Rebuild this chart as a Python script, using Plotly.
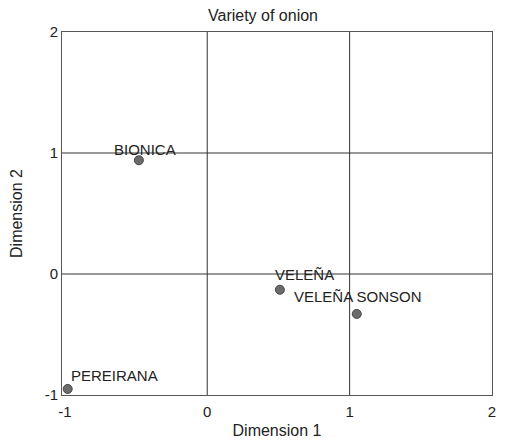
import plotly.graph_objects as go

varieties = ["BIONICA", "VELEÑA", "VELEÑA SONSON", "PEREIRANA"]
dim1 = [-0.48, 0.51, 1.05, -0.98]
dim2 = [0.94, -0.13, -0.33, -0.95]
x_ticks = [-1, 0, 1, 2]
y_ticks = [-1, 0, 1, 2]
grid_vals = [0, 1]

FONT = "Liberation Sans, Arial, sans-serif"
TXT = "#222222"

fig = go.Figure()
fig.add_trace(go.Scatter(
    x=dim1, y=dim2, mode="markers",
    marker=dict(symbol="circle", size=9, color="#6b6b6b",
                line=dict(color="#444444", width=1)),
    hoverinfo="text", text=varieties, showlegend=False,
))

for g in grid_vals:
    fig.add_vline(x=g, line=dict(color="#333333", width=1), layer="below")
    fig.add_hline(y=g, line=dict(color="#333333", width=1), layer="below")

# label offsets (pixels)
offsets = {
    "BIONICA": ("center", 6, 11),
    "VELEÑA": ("left", -7, 15),
    "VELEÑA SONSON": ("center", 1, 17),
    "PEREIRANA": ("left", 1, 13),
}
for name, xv, yv in zip(varieties, dim1, dim2):
    anc, dx, dy = offsets[name]
    fig.add_annotation(x=xv, y=yv, text=name, showarrow=False,
                       xanchor=anc, yanchor="middle", xshift=dx, yshift=dy,
                       font=dict(family=FONT, size=15, color=TXT))

axis_common = dict(
    showgrid=False, zeroline=False, showline=True, linecolor="#555555", linewidth=1,
    mirror=True, automargin=False, tickfont=dict(family=FONT, size=15, color=TXT),
)
fig.update_xaxes(range=[-1.02, 2], tickvals=x_ticks, ticktext=[str(v) for v in x_ticks],
                 ticks="outside", ticklen=3, tickcolor="rgba(0,0,0,0)",
                 title=dict(text="Dimension 1", font=dict(family=FONT, size=16, color=TXT), standoff=5),
                 **axis_common)
fig.update_yaxes(range=[-1, 2], tickvals=y_ticks, ticktext=[str(v) for v in y_ticks],
                 ticks="",
                 title=dict(text="Dimension 2", font=dict(family=FONT, size=16, color=TXT), standoff=19),
                 **axis_common)

fig.update_layout(
    width=500, height=435,
    margin=dict(l=54, r=16, t=24, b=48),
    paper_bgcolor="white", plot_bgcolor="white",
    title=dict(text="Variety of onion", x=0.51, xanchor="center", y=0.982, yanchor="middle",
               font=dict(family=FONT, size=16, color=TXT)),
)

fig.write_html("out.html")
